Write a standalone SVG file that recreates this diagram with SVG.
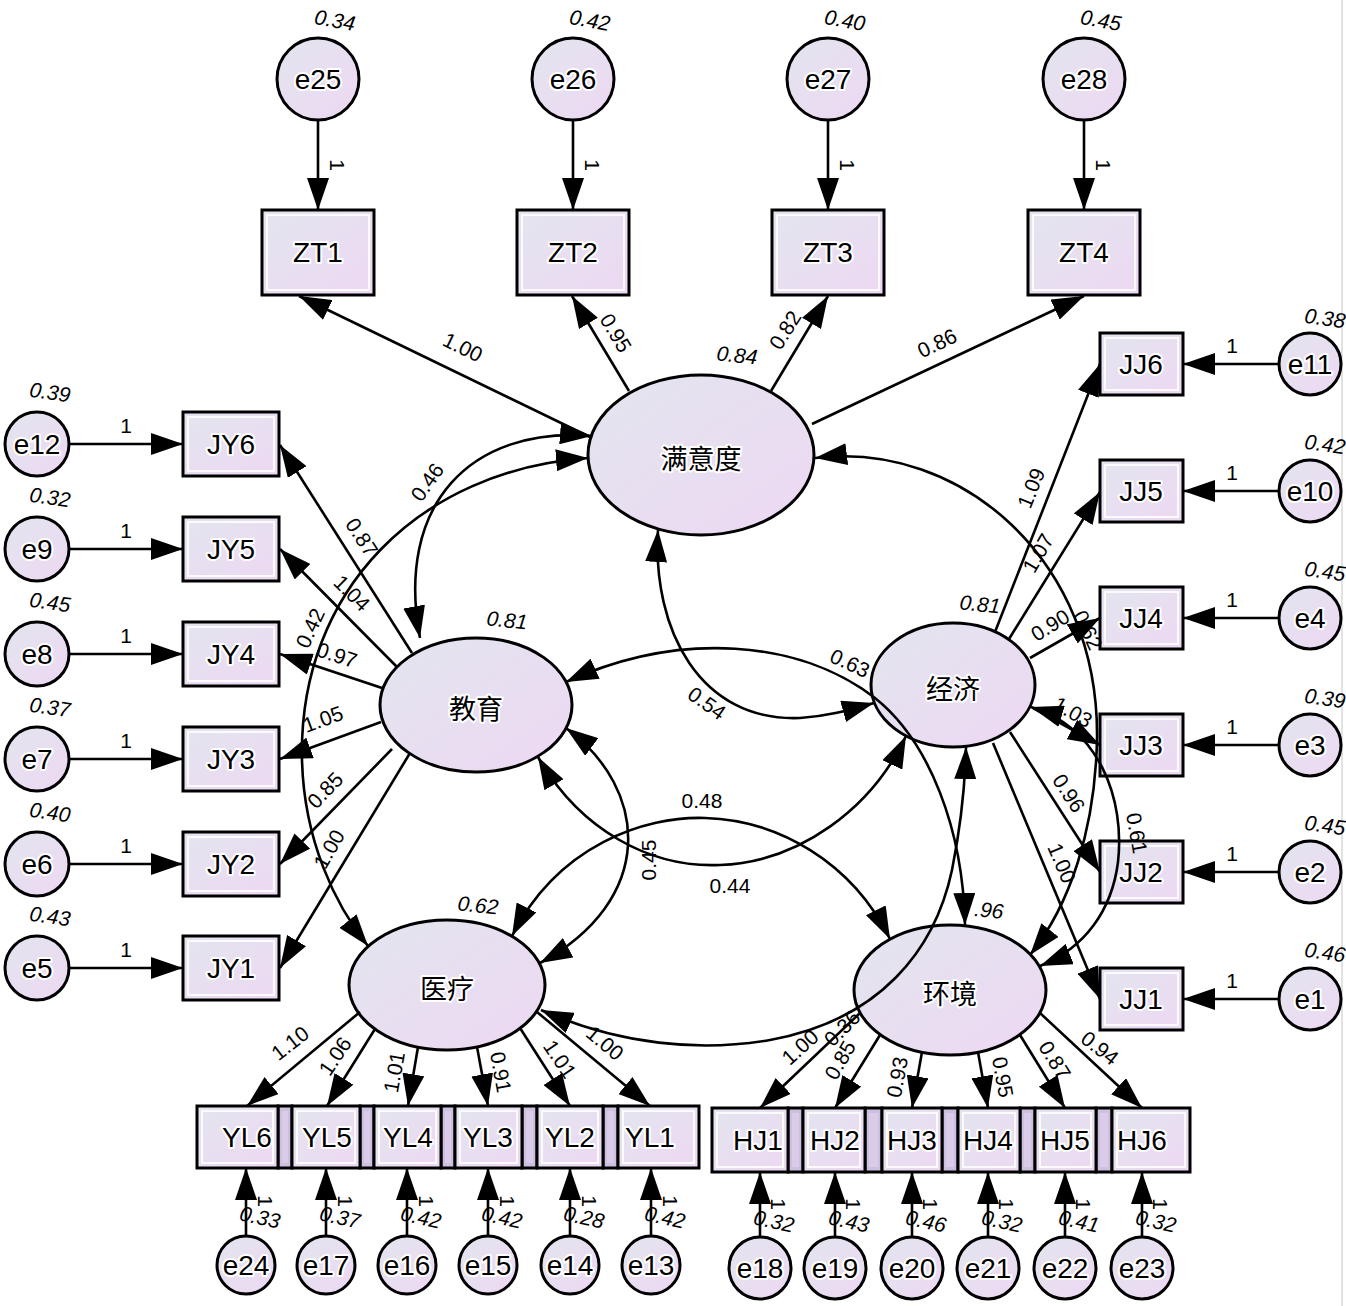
<svg xmlns="http://www.w3.org/2000/svg" width="1346" height="1306" viewBox="0 0 1346 1306">
<defs>
<linearGradient id="gf" x1="0" y1="0" x2="1" y2="1">
<stop offset="0" stop-color="#e3e5ee"/>
<stop offset="1" stop-color="#edd8f3"/>
</linearGradient>
<marker id="ar" markerUnits="userSpaceOnUse" markerWidth="34" markerHeight="22" refX="32" refY="11" orient="auto-start-reverse">
<path d="M0,0 L32,11 L0,22 z" fill="#000"/>
</marker>
<style>
.bx{fill:url(#gf);stroke:#000;stroke-width:3}
.in{fill:none;stroke:#fff;stroke-width:2;opacity:.85}
.el{fill:url(#gf);stroke:#000;stroke-width:3}
.st{fill:#cdbfe0;stroke:#000;stroke-width:3}
.sti{fill:#dacbe9;stroke:none}
.n{font-family:"Liberation Sans",Arial,sans-serif;font-size:28px;fill:#000;text-anchor:middle;dominant-baseline:central;stroke:#fff;stroke-width:4;paint-order:stroke;stroke-linejoin:round}
.cn{font-family:"Noto Sans CJK SC","Noto Sans",sans-serif;font-size:27px;fill:#000;text-anchor:middle;dominant-baseline:central;stroke:#fff;stroke-width:4;paint-order:stroke;stroke-linejoin:round}
.l{font-family:"Liberation Sans",Arial,sans-serif;font-size:21px;fill:#000;text-anchor:middle;dominant-baseline:central}
.v{font-family:"Liberation Sans",Arial,sans-serif;font-size:21px;font-style:italic;fill:#000;text-anchor:middle;dominant-baseline:central}
.a{fill:none;stroke:#000;stroke-width:2.6;marker-end:url(#ar)}
.d{fill:none;stroke:#000;stroke-width:2.6;marker-start:url(#ar);marker-end:url(#ar)}
</style>
</defs>
<rect x="0" y="0" width="1346" height="1306" fill="#fff"/>
<line x1="1342" y1="0" x2="1342" y2="1306" stroke="#e2e2e2" stroke-width="2"/>

<!-- top error terms and ZT -->
<g id="e25"><circle class="el" cx="318" cy="79" r="41"/><text class="n" x="318" y="79">e25</text></g>
<g id="e26"><circle class="el" cx="573" cy="79" r="41"/><text class="n" x="573" y="79">e26</text></g>
<g id="e27"><circle class="el" cx="828" cy="79" r="41"/><text class="n" x="828" y="79">e27</text></g>
<g id="e28"><circle class="el" cx="1084" cy="79" r="41"/><text class="n" x="1084" y="79">e28</text></g>
<g id="ZT1"><rect class="bx" x="262" y="210" width="112" height="85"/><rect class="in" x="267" y="215" width="102" height="75"/><text class="n" x="318" y="252">ZT1</text></g>
<g id="ZT2"><rect class="bx" x="517" y="210" width="112" height="85"/><rect class="in" x="522" y="215" width="102" height="75"/><text class="n" x="573" y="252">ZT2</text></g>
<g id="ZT3"><rect class="bx" x="772" y="210" width="112" height="85"/><rect class="in" x="777" y="215" width="102" height="75"/><text class="n" x="828" y="252">ZT3</text></g>
<g id="ZT4"><rect class="bx" x="1028" y="210" width="112" height="85"/><rect class="in" x="1033" y="215" width="102" height="75"/><text class="n" x="1084" y="252">ZT4</text></g>

<!-- left JY -->
<g id="e12"><circle class="el" cx="37" cy="444" r="32"/><text class="n" x="37" y="444">e12</text></g>
<g id="e9"><circle class="el" cx="37" cy="549" r="32"/><text class="n" x="37" y="549">e9</text></g>
<g id="e8"><circle class="el" cx="37" cy="654" r="32"/><text class="n" x="37" y="654">e8</text></g>
<g id="e7"><circle class="el" cx="37" cy="759" r="32"/><text class="n" x="37" y="759">e7</text></g>
<g id="e6"><circle class="el" cx="37" cy="864" r="32"/><text class="n" x="37" y="864">e6</text></g>
<g id="e5"><circle class="el" cx="37" cy="968" r="32"/><text class="n" x="37" y="968">e5</text></g>
<g id="JY6"><rect class="bx" x="183" y="412" width="96" height="64"/><rect class="in" x="188" y="417" width="86" height="54"/><text class="n" x="231" y="444">JY6</text></g>
<g id="JY5"><rect class="bx" x="183" y="517" width="96" height="64"/><rect class="in" x="188" y="522" width="86" height="54"/><text class="n" x="231" y="549">JY5</text></g>
<g id="JY4"><rect class="bx" x="183" y="622" width="96" height="64"/><rect class="in" x="188" y="627" width="86" height="54"/><text class="n" x="231" y="654">JY4</text></g>
<g id="JY3"><rect class="bx" x="183" y="727" width="96" height="64"/><rect class="in" x="188" y="732" width="86" height="54"/><text class="n" x="231" y="759">JY3</text></g>
<g id="JY2"><rect class="bx" x="183" y="832" width="96" height="64"/><rect class="in" x="188" y="837" width="86" height="54"/><text class="n" x="231" y="864">JY2</text></g>
<g id="JY1"><rect class="bx" x="183" y="936" width="96" height="64"/><rect class="in" x="188" y="941" width="86" height="54"/><text class="n" x="231" y="968">JY1</text></g>

<!-- right JJ -->
<g id="e11"><circle class="el" cx="1310" cy="364" r="31"/><text class="n" x="1310" y="364">e11</text></g>
<g id="e10"><circle class="el" cx="1310" cy="491" r="31"/><text class="n" x="1310" y="491">e10</text></g>
<g id="e4"><circle class="el" cx="1310" cy="618" r="31"/><text class="n" x="1310" y="618">e4</text></g>
<g id="e3"><circle class="el" cx="1310" cy="745" r="31"/><text class="n" x="1310" y="745">e3</text></g>
<g id="e2"><circle class="el" cx="1310" cy="872" r="31"/><text class="n" x="1310" y="872">e2</text></g>
<g id="e1"><circle class="el" cx="1310" cy="999" r="31"/><text class="n" x="1310" y="999">e1</text></g>
<g id="JJ6"><rect class="bx" x="1100" y="333" width="83" height="62"/><rect class="in" x="1105" y="338" width="73" height="52"/><text class="n" x="1141" y="364">JJ6</text></g>
<g id="JJ5"><rect class="bx" x="1100" y="460" width="83" height="62"/><rect class="in" x="1105" y="465" width="73" height="52"/><text class="n" x="1141" y="491">JJ5</text></g>
<g id="JJ4"><rect class="bx" x="1100" y="587" width="83" height="62"/><rect class="in" x="1105" y="592" width="73" height="52"/><text class="n" x="1141" y="618">JJ4</text></g>
<g id="JJ3"><rect class="bx" x="1100" y="714" width="83" height="62"/><rect class="in" x="1105" y="719" width="73" height="52"/><text class="n" x="1141" y="745">JJ3</text></g>
<g id="JJ2"><rect class="bx" x="1100" y="841" width="83" height="62"/><rect class="in" x="1105" y="846" width="73" height="52"/><text class="n" x="1141" y="872">JJ2</text></g>
<g id="JJ1"><rect class="bx" x="1100" y="968" width="83" height="62"/><rect class="in" x="1105" y="973" width="73" height="52"/><text class="n" x="1141" y="999">JJ1</text></g>

<!-- latent variables -->
<g id="manyidu"><ellipse class="el" cx="701" cy="455" rx="113" ry="80"/><text class="cn" x="701" y="457">满意度</text></g>
<g id="jiaoyu"><ellipse class="el" cx="476" cy="705" rx="96" ry="67"/><text class="cn" x="476" y="707">教育</text></g>
<g id="jingji"><ellipse class="el" cx="953" cy="685" rx="82" ry="62"/><text class="cn" x="953" y="687">经济</text></g>
<g id="yiliao"><ellipse class="el" cx="447" cy="985" rx="98" ry="65"/><text class="cn" x="447" y="987">医疗</text></g>
<g id="huanjing"><ellipse class="el" cx="950" cy="990" rx="96" ry="65"/><text class="cn" x="950" y="992">环境</text></g>

<!-- bottom YL row -->
<g id="YL-strips">
<rect class="st" x="278" y="1106" width="14" height="62"/><rect class="sti" x="282" y="1111" width="6" height="52"/>
<rect class="st" x="360" y="1106" width="14" height="62"/><rect class="sti" x="364" y="1111" width="6" height="52"/>
<rect class="st" x="441" y="1106" width="14" height="62"/><rect class="sti" x="445" y="1111" width="6" height="52"/>
<rect class="st" x="522" y="1106" width="15" height="62"/><rect class="sti" x="526" y="1111" width="7" height="52"/>
<rect class="st" x="603" y="1106" width="15" height="62"/><rect class="sti" x="607" y="1111" width="7" height="52"/>
</g>
<g id="YL6"><rect class="bx" x="197" y="1106" width="81" height="62"/><rect class="in" x="202" y="1111" width="71" height="52"/><text class="n" x="247" y="1137">YL6</text></g>
<g id="YL5"><rect class="bx" x="292" y="1106" width="68" height="62"/><rect class="in" x="297" y="1111" width="58" height="52"/><text class="n" x="327" y="1137">YL5</text></g>
<g id="YL4"><rect class="bx" x="374" y="1106" width="67" height="62"/><rect class="in" x="379" y="1111" width="57" height="52"/><text class="n" x="408" y="1137">YL4</text></g>
<g id="YL3"><rect class="bx" x="455" y="1106" width="67" height="62"/><rect class="in" x="460" y="1111" width="57" height="52"/><text class="n" x="488" y="1137">YL3</text></g>
<g id="YL2"><rect class="bx" x="537" y="1106" width="66" height="62"/><rect class="in" x="542" y="1111" width="56" height="52"/><text class="n" x="570" y="1137">YL2</text></g>
<g id="YL1"><rect class="bx" x="618" y="1106" width="81" height="62"/><rect class="in" x="623" y="1111" width="71" height="52"/><text class="n" x="650" y="1137">YL1</text></g>

<!-- bottom HJ row -->
<g id="HJ-strips">
<rect class="st" x="788" y="1108" width="15" height="64"/><rect class="sti" x="792" y="1113" width="7" height="54"/>
<rect class="st" x="865" y="1108" width="17" height="64"/><rect class="sti" x="869" y="1113" width="9" height="54"/>
<rect class="st" x="942" y="1108" width="16" height="64"/><rect class="sti" x="946" y="1113" width="8" height="54"/>
<rect class="st" x="1020" y="1108" width="15" height="64"/><rect class="sti" x="1024" y="1113" width="7" height="54"/>
<rect class="st" x="1096" y="1108" width="16" height="64"/><rect class="sti" x="1100" y="1113" width="8" height="54"/>
</g>
<g id="HJ1"><rect class="bx" x="712" y="1108" width="76" height="64"/><rect class="in" x="717" y="1113" width="66" height="54"/><text class="n" x="758" y="1140">HJ1</text></g>
<g id="HJ2"><rect class="bx" x="803" y="1108" width="62" height="64"/><rect class="in" x="808" y="1113" width="52" height="54"/><text class="n" x="835" y="1140">HJ2</text></g>
<g id="HJ3"><rect class="bx" x="882" y="1108" width="60" height="64"/><rect class="in" x="887" y="1113" width="50" height="54"/><text class="n" x="912" y="1140">HJ3</text></g>
<g id="HJ4"><rect class="bx" x="958" y="1108" width="62" height="64"/><rect class="in" x="963" y="1113" width="52" height="54"/><text class="n" x="988" y="1140">HJ4</text></g>
<g id="HJ5"><rect class="bx" x="1035" y="1108" width="61" height="64"/><rect class="in" x="1040" y="1113" width="51" height="54"/><text class="n" x="1065" y="1140">HJ5</text></g>
<g id="HJ6"><rect class="bx" x="1112" y="1108" width="78" height="64"/><rect class="in" x="1117" y="1113" width="68" height="54"/><text class="n" x="1142" y="1140">HJ6</text></g>

<!-- bottom error terms -->
<g id="e24"><circle class="el" cx="246" cy="1265" r="29"/><text class="n" x="246" y="1265">e24</text></g>
<g id="e17"><circle class="el" cx="326" cy="1265" r="29"/><text class="n" x="326" y="1265">e17</text></g>
<g id="e16"><circle class="el" cx="407" cy="1265" r="29"/><text class="n" x="407" y="1265">e16</text></g>
<g id="e15"><circle class="el" cx="488" cy="1265" r="29"/><text class="n" x="488" y="1265">e15</text></g>
<g id="e14"><circle class="el" cx="570" cy="1265" r="29"/><text class="n" x="570" y="1265">e14</text></g>
<g id="e13"><circle class="el" cx="651" cy="1265" r="29"/><text class="n" x="651" y="1265">e13</text></g>
<g id="e18"><circle class="el" cx="760" cy="1268" r="31"/><text class="n" x="760" y="1268">e18</text></g>
<g id="e19"><circle class="el" cx="835" cy="1268" r="31"/><text class="n" x="835" y="1268">e19</text></g>
<g id="e20"><circle class="el" cx="912" cy="1268" r="31"/><text class="n" x="912" y="1268">e20</text></g>
<g id="e21"><circle class="el" cx="988" cy="1268" r="31"/><text class="n" x="988" y="1268">e21</text></g>
<g id="e22"><circle class="el" cx="1065" cy="1268" r="31"/><text class="n" x="1065" y="1268">e22</text></g>
<g id="e23"><circle class="el" cx="1142" cy="1268" r="31"/><text class="n" x="1142" y="1268">e23</text></g>

<!-- connectors -->
<g id="connectors">
<path class="a" d="M318,120 L318,210"/>
<path class="a" d="M573,120 L573,210"/>
<path class="a" d="M828,120 L828,210"/>
<path class="a" d="M1084,120 L1084,210"/>
<path class="a" d="M69,444 L183,444"/>
<path class="a" d="M69,549 L183,549"/>
<path class="a" d="M69,654 L183,654"/>
<path class="a" d="M69,759 L183,759"/>
<path class="a" d="M69,864 L183,864"/>
<path class="a" d="M69,968 L183,968"/>
<path class="a" d="M1279,364 L1183,364"/>
<path class="a" d="M1279,491 L1183,491"/>
<path class="a" d="M1279,618 L1183,618"/>
<path class="a" d="M1279,745 L1183,745"/>
<path class="a" d="M1279,872 L1183,872"/>
<path class="a" d="M1279,999 L1183,999"/>
<path class="a" d="M246,1236 L246,1168"/>
<path class="a" d="M326,1236 L326,1168"/>
<path class="a" d="M407,1236 L407,1168"/>
<path class="a" d="M488,1236 L488,1168"/>
<path class="a" d="M570,1236 L570,1168"/>
<path class="a" d="M651,1236 L651,1168"/>
<path class="a" d="M760,1237 L760,1172"/>
<path class="a" d="M835,1237 L835,1172"/>
<path class="a" d="M912,1237 L912,1172"/>
<path class="a" d="M988,1237 L988,1172"/>
<path class="a" d="M1065,1237 L1065,1172"/>
<path class="a" d="M1142,1237 L1142,1172"/>
<path class="a" d="M592,438 L299,296"/>
<path class="a" d="M629,391 L572,296"/>
<path class="a" d="M771,391 L828,296"/>
<path class="a" d="M812,424 L1084,296"/>
<path class="a" d="M412,653 L280,445"/>
<path class="a" d="M397,667 L280,549"/>
<path class="a" d="M382,688 L280,654"/>
<path class="a" d="M381,722 L280,759"/>
<path class="a" d="M392,749 L280,864"/>
<path class="a" d="M410,753 L280,968"/>
<path class="a" d="M995,632 L1100,364"/>
<path class="a" d="M1009,639 L1100,492"/>
<path class="a" d="M1030,658 L1100,618"/>
<path class="a" d="M1033,708 L1100,745"/>
<path class="a" d="M1010,732 L1100,872"/>
<path class="a" d="M993,743 L1100,999"/>
<path class="a" d="M360,1012 L247,1106"/>
<path class="a" d="M375,1029 L327,1106"/>
<path class="a" d="M418,1047 L408,1106"/>
<path class="a" d="M477,1047 L488,1106"/>
<path class="a" d="M520,1028 L570,1106"/>
<path class="a" d="M537,1012 L650,1106"/>
<path class="a" d="M860,1013 L760,1108"/>
<path class="a" d="M880,1035 L835,1108"/>
<path class="a" d="M922,1052 L912,1108"/>
<path class="a" d="M978,1052 L988,1108"/>
<path class="a" d="M1020,1035 L1065,1108"/>
<path class="a" d="M1040,1013 L1142,1108"/>
<path class="d" d="M592,436 C470,426 395,505 420,638"/>
<path class="d" d="M588,458 C420,470 298,590 302,760 C304,840 335,905 368,946"/>
<path class="d" d="M658,530 C652,630 700,722 800,718 C830,716 852,709 874,703"/>
<path class="d" d="M815,458 C960,440 1100,560 1097,740 C1095,830 1070,905 1030,955"/>
<path class="d" d="M1031,707 C1100,728 1125,800 1118,862 C1112,910 1085,948 1040,966"/>
<path class="d" d="M566,682 C680,630 800,640 875,698 C930,742 963,830 965,925"/>
<path class="d" d="M512,936 C558,845 645,816 705,818 C778,820 852,862 890,939"/>
<path class="d" d="M538,757 C580,830 650,868 720,865 C800,862 872,808 906,736"/>
<path class="d" d="M566,728 C650,790 656,900 540,963"/>
<path class="d" d="M541,1010 C620,1045 700,1052 770,1040 C880,1020 935,950 952,870 C960,830 965,790 966,747"/>
</g>

<!-- labels -->
<g id="labels">
<text class="v" x="335" y="20" transform="rotate(10 335 20)">0.34</text>
<text class="v" x="590" y="20" transform="rotate(10 590 20)">0.42</text>
<text class="v" x="845" y="20" transform="rotate(10 845 20)">0.40</text>
<text class="v" x="1101" y="20" transform="rotate(10 1101 20)">0.45</text>
<text class="l" x="337" y="165" transform="rotate(90 337 165)">1</text>
<text class="l" x="592" y="165" transform="rotate(90 592 165)">1</text>
<text class="l" x="847" y="165" transform="rotate(90 847 165)">1</text>
<text class="l" x="1103" y="165" transform="rotate(90 1103 165)">1</text>

<text class="v" x="50" y="392" transform="rotate(8 50 392)">0.39</text>
<text class="v" x="50" y="497" transform="rotate(8 50 497)">0.32</text>
<text class="v" x="50" y="602" transform="rotate(8 50 602)">0.45</text>
<text class="v" x="50" y="707" transform="rotate(8 50 707)">0.37</text>
<text class="v" x="50" y="812" transform="rotate(8 50 812)">0.40</text>
<text class="v" x="50" y="916" transform="rotate(8 50 916)">0.43</text>
<text class="l" x="126" y="425">1</text>
<text class="l" x="126" y="530">1</text>
<text class="l" x="126" y="635">1</text>
<text class="l" x="126" y="740">1</text>
<text class="l" x="126" y="845">1</text>
<text class="l" x="126" y="949">1</text>

<text class="v" x="1325" y="318" transform="rotate(8 1325 318)">0.38</text>
<text class="v" x="1325" y="444" transform="rotate(8 1325 444)">0.42</text>
<text class="v" x="1325" y="571" transform="rotate(8 1325 571)">0.45</text>
<text class="v" x="1325" y="698" transform="rotate(8 1325 698)">0.39</text>
<text class="v" x="1325" y="825" transform="rotate(8 1325 825)">0.45</text>
<text class="v" x="1325" y="952" transform="rotate(8 1325 952)">0.46</text>
<text class="l" x="1232" y="345">1</text>
<text class="l" x="1232" y="472">1</text>
<text class="l" x="1232" y="599">1</text>
<text class="l" x="1232" y="726">1</text>
<text class="l" x="1232" y="853">1</text>
<text class="l" x="1232" y="980">1</text>

<text class="l" x="265" y="1201" transform="rotate(90 265 1201)">1</text>
<text class="l" x="345" y="1201" transform="rotate(90 345 1201)">1</text>
<text class="l" x="426" y="1201" transform="rotate(90 426 1201)">1</text>
<text class="l" x="507" y="1201" transform="rotate(90 507 1201)">1</text>
<text class="l" x="589" y="1201" transform="rotate(90 589 1201)">1</text>
<text class="l" x="670" y="1201" transform="rotate(90 670 1201)">1</text>
<text class="v" x="260" y="1217" transform="rotate(12 260 1217)">0.33</text>
<text class="v" x="340" y="1217" transform="rotate(12 340 1217)">0.37</text>
<text class="v" x="421" y="1217" transform="rotate(12 421 1217)">0.42</text>
<text class="v" x="502" y="1217" transform="rotate(12 502 1217)">0.42</text>
<text class="v" x="584" y="1217" transform="rotate(12 584 1217)">0.28</text>
<text class="v" x="665" y="1217" transform="rotate(12 665 1217)">0.42</text>

<text class="l" x="778" y="1204" transform="rotate(90 778 1204)">1</text>
<text class="l" x="853" y="1204" transform="rotate(90 853 1204)">1</text>
<text class="l" x="930" y="1204" transform="rotate(90 930 1204)">1</text>
<text class="l" x="1006" y="1204" transform="rotate(90 1006 1204)">1</text>
<text class="l" x="1083" y="1204" transform="rotate(90 1083 1204)">1</text>
<text class="l" x="1160" y="1204" transform="rotate(90 1160 1204)">1</text>
<text class="v" x="774" y="1221" transform="rotate(12 774 1221)">0.32</text>
<text class="v" x="849" y="1221" transform="rotate(12 849 1221)">0.43</text>
<text class="v" x="926" y="1221" transform="rotate(12 926 1221)">0.46</text>
<text class="v" x="1002" y="1221" transform="rotate(12 1002 1221)">0.32</text>
<text class="v" x="1079" y="1221" transform="rotate(12 1079 1221)">0.41</text>
<text class="v" x="1156" y="1221" transform="rotate(12 1156 1221)">0.32</text>

<text class="v" x="737" y="355" transform="rotate(6 737 355)">0.84</text>
<text class="v" x="507" y="620" transform="rotate(6 507 620)">0.81</text>
<text class="v" x="980" y="604" transform="rotate(6 980 604)">0.81</text>
<text class="v" x="478" y="905" transform="rotate(6 478 905)">0.62</text>
<text class="v" x="989" y="910" transform="rotate(6 989 910)">.96</text>

<text class="l" x="463" y="347" transform="rotate(26 463 347)">1.00</text>
<text class="l" x="616" y="333" transform="rotate(59 616 333)">0.95</text>
<text class="l" x="785" y="330" transform="rotate(-58 785 330)">0.82</text>
<text class="l" x="937" y="343" transform="rotate(-25 937 343)">0.86</text>

<text class="l" x="362" y="537" transform="rotate(57 362 537)">0.87</text>
<text class="l" x="352" y="593" transform="rotate(45 352 593)">1.04</text>
<text class="l" x="337" y="655" transform="rotate(18 337 655)">0.97</text>
<text class="l" x="323" y="719" transform="rotate(-20 323 719)">1.05</text>
<text class="l" x="325" y="790" transform="rotate(-46 325 790)">0.85</text>
<text class="l" x="329" y="849" transform="rotate(-60 329 849)">1.00</text>

<text class="l" x="1031" y="488" transform="rotate(-68 1031 488)">1.09</text>
<text class="l" x="1038" y="553" transform="rotate(-60 1038 553)">1.07</text>
<text class="l" x="1050" y="625" transform="rotate(-32 1050 625)">0.90</text>
<text class="l" x="1073" y="712" transform="rotate(30 1073 712)">1.03</text>
<text class="l" x="1069" y="793" transform="rotate(57 1069 793)">0.96</text>
<text class="l" x="1062" y="863" transform="rotate(67 1062 863)">1.00</text>

<text class="l" x="290" y="1043" transform="rotate(-38 290 1043)">1.10</text>
<text class="l" x="335" y="1056" transform="rotate(-56 335 1056)">1.06</text>
<text class="l" x="394" y="1072" transform="rotate(-80 394 1072)">1.01</text>
<text class="l" x="501" y="1072" transform="rotate(80 501 1072)">0.91</text>
<text class="l" x="560" y="1059" transform="rotate(56 560 1059)">1.01</text>
<text class="l" x="605" y="1043" transform="rotate(40 605 1043)">1.00</text>

<text class="l" x="800" y="1047" transform="rotate(-42 800 1047)">1.00</text>
<text class="l" x="840" y="1060" transform="rotate(-60 840 1060)">0.85</text>
<text class="l" x="897" y="1077" transform="rotate(-80 897 1077)">0.93</text>
<text class="l" x="1003" y="1077" transform="rotate(80 1003 1077)">0.95</text>
<text class="l" x="1055" y="1060" transform="rotate(58 1055 1060)">0.87</text>
<text class="l" x="1100" y="1048" transform="rotate(38 1100 1048)">0.94</text>

<text class="l" x="427" y="482" transform="rotate(-55 427 482)">0.46</text>
<text class="l" x="310" y="628" transform="rotate(-65 310 628)">0.42</text>
<text class="l" x="707" y="703" transform="rotate(35 707 703)">0.54</text>
<text class="l" x="1088" y="630" transform="rotate(65 1088 630)">0.62</text>
<text class="l" x="1137" y="833" transform="rotate(80 1137 833)">0.61</text>
<text class="l" x="850" y="663" transform="rotate(25 850 663)">0.63</text>
<text class="l" x="702" y="800">0.48</text>
<text class="l" x="730" y="885">0.44</text>
<text class="l" x="648" y="860" transform="rotate(-90 648 860)">0.45</text>
<text class="l" x="842" y="1028" transform="rotate(-45 842 1028)">0.36</text>
</g>
</svg>
